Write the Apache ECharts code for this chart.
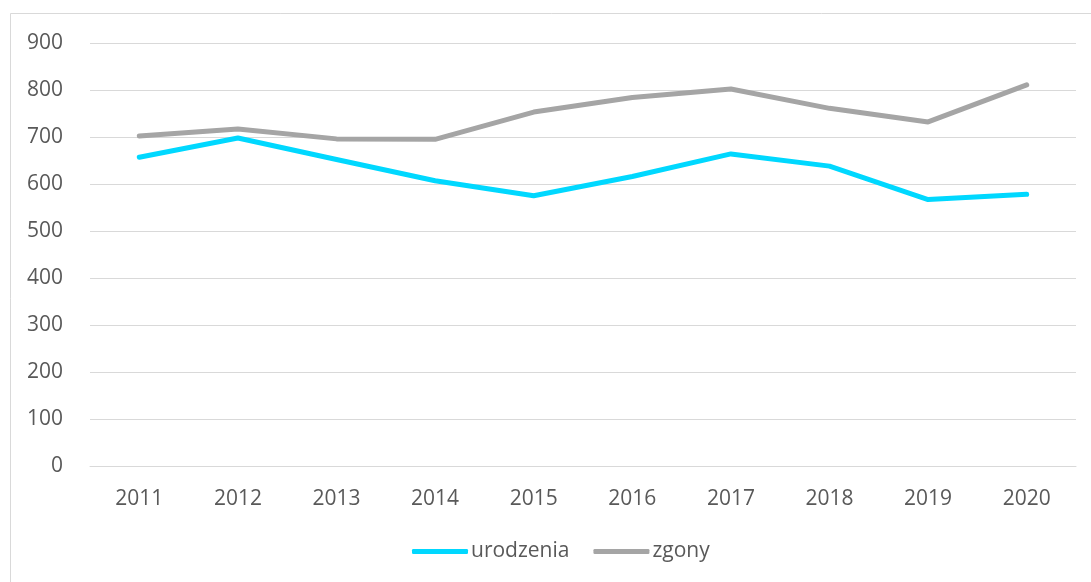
<!DOCTYPE html>
<html>
<head>
<meta charset="utf-8">
<script src="https://cdn.jsdelivr.net/npm/echarts@6/dist/echarts.min.js"></script>
<style>
  html, body { margin:0; padding:0; background:#fff; }
  #chart { width:1091px; height:582px; }
</style>
</head>
<body>
<div id="chart"></div>
<script>
// ---- dane ----
const years = ['2011','2012','2013','2014','2015','2016','2017','2018','2019','2020'];
const urodzenia = [657, 698, 652, 607, 575, 616, 664, 638, 567, 578];
const zgony     = [702, 717, 696, 695, 753, 784, 802, 761, 732, 811];

const TXT = '#595959';
const FONT = '"Open Sans", "Noto Sans", sans-serif';

const chart = echarts.init(document.getElementById('chart'));

function lineSeries(name, data, color){
  return {
    name, type:'line', data,
    symbol:'none',
    lineStyle:{ width:5, color, cap:'round', join:'round' },
    itemStyle:{ color }
  };
}

chart.setOption({
  backgroundColor:'#fff',
  animation:false,
  textStyle:{ fontFamily:FONT },
  graphic:[{
    type:'rect', silent:true, z:-1,
    shape:{ x:10.5, y:13.5, width:1200, height:700 },
    style:{ fill:'none', stroke:'#d9d9d9', lineWidth:1 }
  }],
  grid:{ left:90, right:15, top:43, bottom:116 },
  xAxis:{
    type:'category', data:years, boundaryGap:true,
    axisLine:{ lineStyle:{ color:'#d9d9d9', width:1 } },
    axisTick:{ show:false },
    axisLabel:{ color:TXT, fontSize:21, fontFamily:FONT, margin:23 }
  },
  yAxis:{
    type:'value', min:0, max:900, interval:100,
    axisLine:{ show:false }, axisTick:{ show:false },
    splitLine:{ lineStyle:{ color:'#d9d9d9', width:1 } },
    axisLabel:{ color:TXT, fontSize:21, fontFamily:FONT, margin:27 }
  },
  legend:{
    bottom:15, left:407,
    icon:'roundRect', itemWidth:56, itemHeight:5, itemGap:24,
    textStyle:{ color:TXT, fontSize:21, fontFamily:FONT, padding:[0,0,0,-2] },
    data:['urodzenia','zgony']
  },
  series:[
    lineSeries('urodzenia', urodzenia, '#00d8ff'),
    lineSeries('zgony', zgony, '#a5a5a5')
  ]
});
</script>
</body>
</html>
